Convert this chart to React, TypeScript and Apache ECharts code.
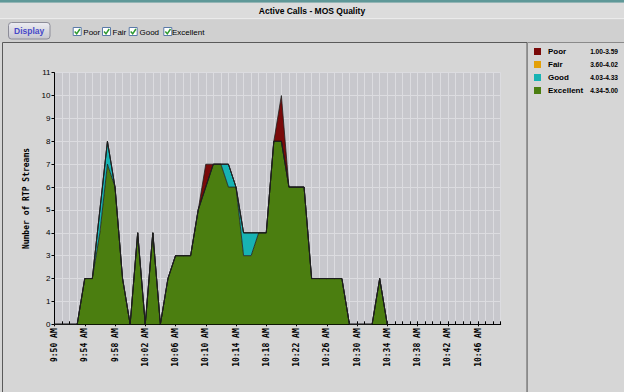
import React, { useEffect, useRef } from "react";
import * as echarts from "echarts";

const times = [
  "9:50 AM", "9:51 AM", "9:52 AM", "9:53 AM", "9:54 AM", "9:55 AM", "9:56 AM", "9:57 AM", "9:58 AM", "9:59 AM",
  "10:00 AM", "10:01 AM", "10:02 AM", "10:03 AM", "10:04 AM", "10:05 AM", "10:06 AM", "10:07 AM", "10:08 AM", "10:09 AM",
  "10:10 AM", "10:11 AM", "10:12 AM", "10:13 AM", "10:14 AM", "10:15 AM", "10:16 AM", "10:17 AM", "10:18 AM", "10:19 AM",
  "10:20 AM", "10:21 AM", "10:22 AM", "10:23 AM", "10:24 AM", "10:25 AM", "10:26 AM", "10:27 AM", "10:28 AM", "10:29 AM",
  "10:30 AM", "10:31 AM", "10:32 AM", "10:33 AM", "10:34 AM", "10:35 AM", "10:36 AM", "10:37 AM", "10:38 AM", "10:39 AM",
  "10:40 AM", "10:41 AM", "10:42 AM", "10:43 AM", "10:44 AM", "10:45 AM", "10:46 AM", "10:47 AM", "10:48 AM", "10:49 AM",
];

const excellent = [0, 0, 0, 0, 2, 2, 4, 7, 6, 2, 0, 4, 0, 4, 0, 2, 3, 3, 3, 5, 6, 7, 7, 6, 6, 3, 3, 4, 4, 8, 8, 6, 6, 6, 2, 2, 2, 2, 2, 0, 0, 0, 0, 2, 0];
const good = [0, 0, 0, 0, 0, 0, 1, 1, 0, 0, 0, 0, 0, 0, 0, 0, 0, 0, 0, 0, 0, 0, 0, 1, 0, 1, 1, 0, 0, 0, 0, 0, 0, 0, 0, 0, 0, 0, 0, 0, 0, 0, 0, 0, 0];
const fair = [0, 0, 0, 0, 0, 0, 0, 0, 0, 0, 0, 0, 0, 0, 0, 0, 0, 0, 0, 0, 0, 0, 0, 0, 0, 0, 0, 0, 0, 0, 0, 0, 0, 0, 0, 0, 0, 0, 0, 0, 0, 0, 0, 0, 0];
const poor = [0, 0, 0, 0, 0, 0, 0, 0, 0, 0, 0, 0, 0, 0, 0, 0, 0, 0, 0, 0, 1, 0, 0, 0, 0, 0, 0, 0, 0, 0, 2, 0, 0, 0, 0, 0, 0, 0, 0, 0, 0, 0, 0, 0, 0];

const legendNames = ["Poor", "Fair", "Good", "Excellent"];
const legendRanges = ["1.00-3.59", "3.60-4.02", "4.03-4.33", "4.34-5.00"];
const legendColors = ["#7a0a0a", "#e3a008", "#17b3b3", "#4b7e10"];
const checkboxX = [72.7, 102, 128.7, 163.3];
const checkboxTextX = [83.3, 112.5, 139.5, 172];

const yMax = 11;

export default function App() {
  const ref = useRef<HTMLDivElement>(null);
  useEffect(() => {
    if (!ref.current) return;
    const chart = echarts.init(ref.current, null, { renderer: "svg" });
    const colorOf = (n: string) => legendColors[legendNames.indexOf(n)];

    const graphics: any[] = [
      { type: "rect", shape: { x: 0, y: 0, width: 624, height: 2.7 }, style: { fill: "#5f9898" }, z: -10 },
      { type: "rect", shape: { x: 0, y: 2.7, width: 624, height: 15.6 }, style: { fill: "#dcdcdc" }, z: -10 },
      { type: "rect", shape: { x: 0, y: 18.3, width: 624, height: 1 }, style: { fill: "#f2f2f2" }, z: -10 },
      { type: "rect", shape: { x: 0, y: 19.3, width: 624, height: 23 }, style: { fill: "#d0d0d0" }, z: -10 },
      {
        type: "text", x: 312, y: 11,
        style: { text: "Active Calls - MOS Quality", fill: "#000", font: "bold 8.5px 'Liberation Sans', Arial, sans-serif", align: "center", verticalAlign: "middle" },
      },
      {
        type: "rect", shape: { x: 8.5, y: 22.5, width: 41.5, height: 16.5, r: 3 },
        style: {
          fill: new echarts.graphic.LinearGradient(0, 0, 0, 1, [
            { offset: 0, color: "#ececf2" },
            { offset: 1, color: "#c6c6ce" },
          ]),
          stroke: "#8c8c98", lineWidth: 1,
        },
      },
      {
        type: "text", x: 29.2, y: 30.8,
        style: { text: "Display", fill: "#4848c8", font: "bold 8.5px 'Liberation Sans', Arial, sans-serif", align: "center", verticalAlign: "middle" },
      },
      // chart panel borders
      { type: "rect", shape: { x: 2.5, y: 42.5, width: 524.5, height: 360 }, style: { fill: "#d6d6d6", stroke: "#5a5a5a", lineWidth: 1 }, z: -10 },
      { type: "rect", shape: { x: 527.5, y: 42.5, width: 100, height: 360 }, style: { fill: "#d6d6d6", stroke: "#8a8a8a", lineWidth: 1 }, z: -10 },
    ];

    legendNames.forEach((name, i) => {
      const bx = checkboxX[i];
      graphics.push({ type: "rect", shape: { x: bx + 0.5, y: 27.5, width: 8, height: 8 }, style: { fill: "#ffffff", stroke: "#5a7aa8", lineWidth: 1 } });
      graphics.push({ type: "polyline", shape: { points: [[bx + 2, 31.5], [bx + 4, 33.8], [bx + 7.2, 29]] }, style: { stroke: "#2f9a2f", lineWidth: 1.5, fill: null } });
      graphics.push({
        type: "text", x: checkboxTextX[i], y: 32,
        style: { text: name, fill: "#000", font: "8px 'Liberation Sans', Arial, sans-serif", align: "left", verticalAlign: "middle" },
      });
      const ly = 51.5 + i * 13;
      graphics.push({ type: "rect", shape: { x: 534, y: ly - 3.5, width: 7, height: 7 }, style: { fill: legendColors[i] } });
      graphics.push({
        type: "text", x: 548, y: ly,
        style: { text: name, fill: "#000", font: "bold 8px 'Liberation Sans', Arial, sans-serif", align: "left", verticalAlign: "middle" },
      });
      graphics.push({
        type: "text", x: 618, y: ly,
        style: { text: legendRanges[i], fill: "#000", font: "bold 6.6px 'Liberation Sans', Arial, sans-serif", align: "right", verticalAlign: "middle" },
      });
    });

    const mk = (name: string, data: number[]) => ({
      name,
      type: "line",
      stack: "total",
      data,
      symbol: "none",
      xAxisIndex: 0,
      yAxisIndex: 0,
      lineStyle: { color: "#1e1e1e", width: 0.8 },
      areaStyle: { color: colorOf(name), opacity: 1 },
      itemStyle: { color: colorOf(name) },
    });

    chart.setOption({
      animation: false,
      backgroundColor: "#d6d6d6",
      graphic: { elements: graphics },
      grid: {
        left: 54.5, right: 123.3, top: 72.7, bottom: 67.7,
        show: true, backgroundColor: "#c8c8cd", borderWidth: 0,
      },
      xAxis: [
        {
          type: "category",
          data: times,
          boundaryGap: false,
          axisLine: { show: true, lineStyle: { color: "#000", width: 1 } },
          axisTick: { show: true, inside: false, length: 2, interval: 3, lineStyle: { color: "#000" } },
          axisLabel: {
            interval: 3, rotate: 90, margin: 4, color: "#000",
            fontFamily: "'DejaVu Sans Mono', monospace", fontSize: 8, fontWeight: "bold",
          },
          splitLine: { show: true, interval: 0, lineStyle: { color: "#dcdce0", width: 1 } },
        },
        {
          type: "category",
          data: times,
          boundaryGap: false,
          position: "bottom",
          axisLine: { show: false },
          axisTick: { show: true, inside: true, length: 3, interval: 0, lineStyle: { color: "#000" } },
          axisLabel: { show: false },
          splitLine: { show: false },
        },
      ],
      yAxis: {
        type: "value",
        min: 0, max: yMax, interval: 1,
        name: "Number of RTP Streams",
        nameLocation: "middle",
        nameRotate: 90,
        nameGap: 23,
        nameTextStyle: { fontFamily: "'DejaVu Sans Mono', monospace", fontSize: 8, fontWeight: "bold", color: "#000" },
        axisLine: { show: true, lineStyle: { color: "#000", width: 1 } },
        axisTick: { show: true, length: 3, lineStyle: { color: "#000" } },
        axisLabel: { margin: 4, color: "#000", fontFamily: "'Liberation Sans', Arial, sans-serif", fontSize: 8 },
        splitLine: { show: true, lineStyle: { color: "#dcdce0", width: 1 } },
      },
      series: [
        mk("Excellent", excellent),
        mk("Good", good),
        mk("Fair", fair),
        mk("Poor", poor),
      ],
    });
    return () => chart.dispose();
  }, []);

  return (
    <div
      ref={ref}
      style={{ position: "fixed", left: 0, top: 0, width: 624, height: 392 }}
    />
  );
}
